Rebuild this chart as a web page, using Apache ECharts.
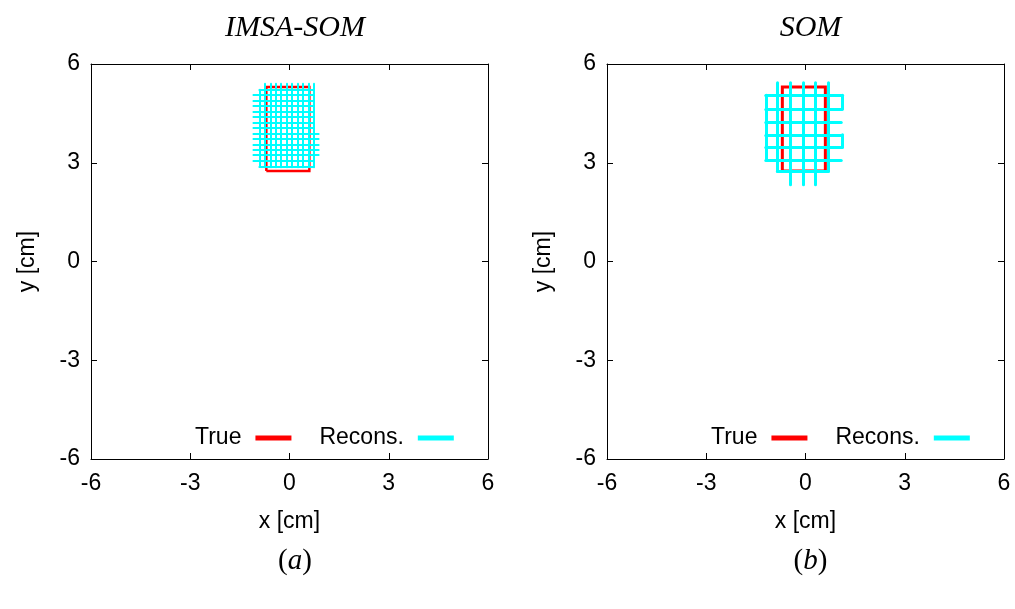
<!DOCTYPE html>
<html>
<head>
<meta charset="utf-8">
<script src="https://cdn.jsdelivr.net/npm/echarts@6/dist/echarts.min.js"></script>
<style>html,body{margin:0;padding:0;background:#fff}#c{width:1015px;height:609px}</style>
</head>
<body>
<div id="c"></div>
<script>
// ---- data ----
const axisTicks = [-6, -3, 0, 3, 6];
const panelTitles = ['IMSA-SOM', 'SOM'];
const panelLabels = ['a', 'b'];
const legendNames = ['True', 'Recons.'];

// true target rectangle (cm)
const trueRectX = [-0.70, 0.60];
const trueRectY = [2.75, 5.30];

// IMSA-SOM reconstruction lattice
const leftColX      = [-0.74, -0.58, -0.42, -0.25, -0.09, 0.07, 0.24, 0.40, 0.57, 0.73, -0.91];
const leftColBottom = [2.86, 2.86, 2.86, 2.86, 2.86, 2.86, 2.86, 2.86, 2.86, 2.86, 2.89];
const leftColTop    = [5.40, 5.40, 5.40, 5.40, 5.40, 5.40, 5.40, 5.40, 5.40, 5.40, 5.22];
const leftRowY      = [5.22, 5.06, 4.89, 4.72, 4.56, 4.39, 4.23, 4.06, 3.89, 3.73, 3.56, 3.39, 3.23, 3.06, 2.89];
const leftRowStart  = [-0.91, -1.09, -1.09, -1.09, -1.09, -1.09, -1.09, -1.09, -1.09, -1.09, -1.09, -1.09, -1.09, -1.09, -0.91];
const leftRowEnd    = [0.73, 0.73, 0.73, 0.73, 0.73, 0.73, 0.73, 0.73, 0.88, 0.88, 0.88, 0.88, 0.88, 0.73, 0.73];

// SOM reconstruction lattice
const rightColX      = [-0.85, -0.45, -0.06, 0.30, 0.69, -1.20, 1.11, 1.11];
const rightColBottom = [2.74, 2.33, 2.33, 2.33, 2.74, 3.09, 4.64, 3.47];
const rightColTop    = [5.43, 5.43, 5.43, 5.43, 5.43, 5.05, 5.05, 3.85];
const rightRowY      = [5.05, 4.64, 4.24, 3.85, 3.47, 3.09, 2.74];
const rightRowStart  = [-1.20, -1.20, -1.20, -1.20, -1.20, -1.20, -0.85];
const rightRowEnd    = [1.11, 1.11, 1.08, 1.11, 1.11, 1.08, 0.69];

// ---- build ----
function rectCoords(xs, ys) {
  return [[xs[0], ys[0]], [xs[1], ys[0]], [xs[1], ys[1]], [xs[0], ys[1]], [xs[0], ys[0]]];
}
function lattice(colX, colB, colT, rowY, rowS, rowE) {
  const d = [];
  colX.forEach((x, i) => d.push({ coords: [[x, colB[i]], [x, colT[i]]] }));
  rowY.forEach((y, i) => d.push({ coords: [[rowS[i], y], [rowE[i], y]] }));
  return d;
}

const SANS = 'Liberation Sans';
const SERIF = 'Liberation Serif';
const FS = 23;
const gridsPx = [{ left: 91, top: 64, width: 397, height: 395 }, { left: 607, top: 64, width: 397, height: 395 }];

const xAxes = [], yAxes = [];
gridsPx.forEach((g, gi) => {
  const common = {
    gridIndex: gi, min: axisTicks[0], max: axisTicks[axisTicks.length - 1], interval: 3,
    axisLine: { show: true, onZero: false, lineStyle: { color: '#000', width: 1 } },
    axisTick: { show: true, inside: true, length: 6, lineStyle: { color: '#000' } },
    splitLine: { show: false }
  };
  xAxes.push(Object.assign({}, common, {
    type: 'value', position: 'bottom',
    axisLabel: { show: true, margin: 13, fontSize: FS, fontFamily: SANS, color: '#000' },
    name: 'x [cm]', nameLocation: 'middle', nameGap: 51,
    nameTextStyle: { fontSize: FS, fontFamily: SANS, color: '#000' }
  }));
  xAxes.push(Object.assign({}, common, { type: 'value', position: 'top', axisLabel: { show: false } }));
  yAxes.push(Object.assign({}, common, {
    type: 'value', position: 'left',
    axisLabel: { show: true, margin: 11, fontSize: FS, fontFamily: SANS, color: '#000' },
    name: 'y [cm]', nameLocation: 'middle', nameGap: 52,
    nameTextStyle: { fontSize: FS, fontFamily: SANS, color: '#000' }
  }));
  yAxes.push(Object.assign({}, common, { type: 'value', position: 'right', axisLabel: { show: false } }));
});

const series = [
  { name: legendNames[0], type: 'lines', coordinateSystem: 'cartesian2d', xAxisIndex: 0, yAxisIndex: 0, polyline: true,
    lineStyle: { color: '#ff0000', width: 2.5, opacity: 1 }, data: [{ coords: rectCoords(trueRectX, trueRectY) }], z: 2 },
  { name: legendNames[1], type: 'lines', coordinateSystem: 'cartesian2d', xAxisIndex: 0, yAxisIndex: 0,
    lineStyle: { color: '#00ffff', width: 2, opacity: 1, cap: 'round' },
    data: lattice(leftColX, leftColBottom, leftColTop, leftRowY, leftRowStart, leftRowEnd), z: 3 },
  { name: legendNames[0], type: 'lines', coordinateSystem: 'cartesian2d', xAxisIndex: 2, yAxisIndex: 2, polyline: true,
    lineStyle: { color: '#ff0000', width: 3, opacity: 1 }, data: [{ coords: rectCoords(trueRectX, trueRectY) }], z: 2 },
  { name: legendNames[1], type: 'lines', coordinateSystem: 'cartesian2d', xAxisIndex: 2, yAxisIndex: 2,
    lineStyle: { color: '#00ffff', width: 3, opacity: 1, cap: 'round' },
    data: lattice(rightColX, rightColBottom, rightColTop, rightRowY, rightRowStart, rightRowEnd), z: 3 }
];

const legendColors = ['#ff0000', '#00ffff'];
const legends = [190, 706].map(x => ({
  left: x, top: 421, width: 320, orient: 'horizontal', align: 'right', itemGap: 28,
  itemWidth: 34, itemHeight: 3, selectedMode: false,
  textStyle: { fontSize: FS, fontFamily: SANS, color: '#000', lineHeight: 24, padding: [0, 10, 0, 0] },
  data: legendNames.map((n, i) => ({ name: n, icon: 'rect', itemStyle: { color: legendColors[i] } }))
}));

const centers = [290, 805.5];
const titles = [];
panelTitles.forEach((t, i) => titles.push({
  text: t, left: centers[i], top: 8, textAlign: 'center',
  textStyle: { fontFamily: SERIF, fontStyle: 'italic', fontWeight: 'normal', fontSize: 30, color: '#000' }
}));
panelLabels.forEach((t, i) => titles.push({
  text: '{n|(}{i|' + t + '}{n|)}', left: centers[i], top: 542, textAlign: 'center',
  textStyle: {
    fontSize: 29, fontWeight: 'normal', color: '#000',
    rich: {
      n: { fontFamily: SERIF, fontSize: 29, fontWeight: 'normal', color: '#000' },
      i: { fontFamily: SERIF, fontStyle: 'italic', fontWeight: 'normal', fontSize: 29, color: '#000' }
    }
  }
}));

const chart = echarts.init(document.getElementById('c'), null, { renderer: 'canvas' });
chart.setOption({
  animation: false,
  backgroundColor: '#fff',
  title: titles,
  legend: legends,
  grid: gridsPx,
  xAxis: xAxes,
  yAxis: yAxes,
  series: series
});
</script>
</body>
</html>
